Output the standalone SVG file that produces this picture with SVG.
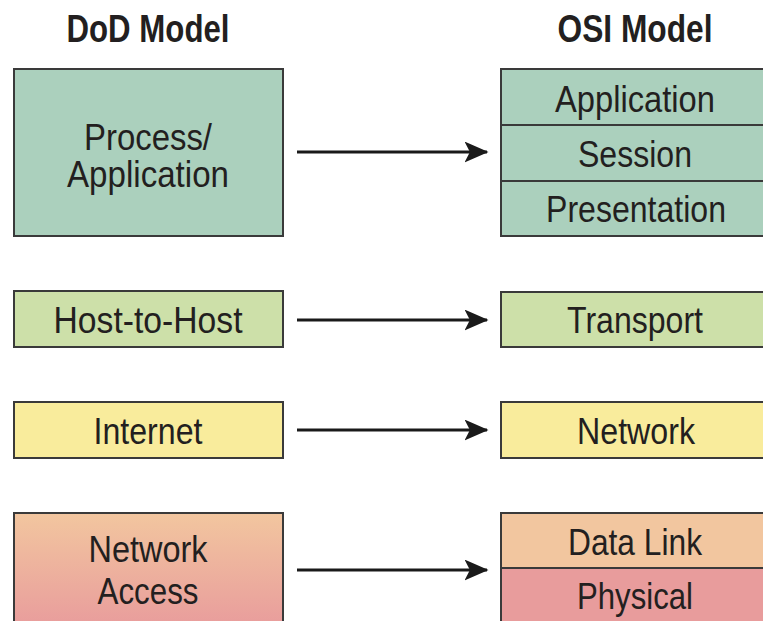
<svg xmlns="http://www.w3.org/2000/svg" width="763" height="621" viewBox="0 0 763 621">
  <style>
    .box { stroke: #3a3a3a; stroke-width: 2; }
    .sep { stroke: #3a3a3a; stroke-width: 2; fill: none; }
    .lbl { font-family: "Liberation Sans", Arial, sans-serif; font-size: 37px; fill: #231f20; text-anchor: middle; }
    .hdr { font-family: "Liberation Sans", Arial, sans-serif; font-size: 38px; font-weight: bold; fill: #231f20; text-anchor: middle; }
    .conn { stroke: #1a1a1a; stroke-width: 3; fill: none; }
    .teal { fill: #abd0bd; }
    .lime { fill: #cde0a9; }
    .yellow { fill: #f9ec9c; }
    .peach { fill: #f2c69f; }
    .rose { fill: #e89c9c; }
  </style>
  <defs>
    <linearGradient id="accessGrad" x1="0" y1="0" x2="0" y2="1">
      <stop offset="0" stop-color="#f2c69f"/>
      <stop offset="1" stop-color="#e89a9c"/>
    </linearGradient>
    <marker id="arrow" markerWidth="8" markerHeight="7" refX="7.5" refY="3.5" orient="auto" markerUnits="strokeWidth">
      <path d="M0,0 L8,3.5 L0,7 L1.8,3.5 Z" fill="#1a1a1a"/>
    </marker>
  </defs>
  <rect width="763" height="621" fill="#ffffff"/>

  <!-- column headers -->
  <text class="hdr" x="148" y="42" textLength="163" lengthAdjust="spacingAndGlyphs">DoD Model</text>
  <text class="hdr" x="635" y="42" textLength="155" lengthAdjust="spacingAndGlyphs">OSI Model</text>

  <!-- DoD layers -->
  <g id="dod-process">
    <rect class="box teal" x="14" y="69" width="269" height="167"/>
    <text class="lbl" x="148" y="150" textLength="128" lengthAdjust="spacingAndGlyphs">Process/</text>
    <text class="lbl" x="148" y="187" textLength="162" lengthAdjust="spacingAndGlyphs">Application</text>
  </g>
  <g id="dod-host">
    <rect class="box lime" x="14" y="291" width="269" height="56"/>
    <text class="lbl" x="148" y="333" textLength="189" lengthAdjust="spacingAndGlyphs">Host-to-Host</text>
  </g>
  <g id="dod-internet">
    <rect class="box yellow" x="14" y="402" width="269" height="56"/>
    <text class="lbl" x="148" y="444" textLength="109" lengthAdjust="spacingAndGlyphs">Internet</text>
  </g>
  <g id="dod-access">
    <rect class="box" fill="url(#accessGrad)" x="14" y="513" width="269" height="120"/>
    <text class="lbl" x="148" y="562" textLength="119" lengthAdjust="spacingAndGlyphs">Network</text>
    <text class="lbl" x="148" y="604" textLength="101" lengthAdjust="spacingAndGlyphs">Access</text>
  </g>

  <!-- OSI layers -->
  <g id="osi-upper">
    <rect class="box teal" x="501" y="69" width="280" height="167"/>
    <line class="sep" x1="501" y1="125" x2="781" y2="125"/>
    <line class="sep" x1="501" y1="181" x2="781" y2="181"/>
    <text class="lbl" x="635" y="112" textLength="160" lengthAdjust="spacingAndGlyphs">Application</text>
    <text class="lbl" x="635" y="167" textLength="114" lengthAdjust="spacingAndGlyphs">Session</text>
    <text class="lbl" x="636" y="222" textLength="180" lengthAdjust="spacingAndGlyphs">Presentation</text>
  </g>
  <g id="osi-transport">
    <rect class="box lime" x="501" y="292" width="280" height="55"/>
    <text class="lbl" x="635" y="333" textLength="136" lengthAdjust="spacingAndGlyphs">Transport</text>
  </g>
  <g id="osi-network">
    <rect class="box yellow" x="501" y="402" width="280" height="56"/>
    <text class="lbl" x="636" y="444" textLength="118" lengthAdjust="spacingAndGlyphs">Network</text>
  </g>
  <g id="osi-lower">
    <rect class="box peach" x="501" y="513" width="280" height="55"/>
    <rect class="box rose" x="501" y="568" width="280" height="65"/>
    <text class="lbl" x="635" y="555" textLength="134" lengthAdjust="spacingAndGlyphs">Data Link</text>
    <text class="lbl" x="635" y="609" textLength="116" lengthAdjust="spacingAndGlyphs">Physical</text>
  </g>

  <!-- mappings -->
  <g id="connectors">
    <line class="conn" x1="297" y1="152" x2="487" y2="152" marker-end="url(#arrow)"/>
    <line class="conn" x1="297" y1="320" x2="487" y2="320" marker-end="url(#arrow)"/>
    <line class="conn" x1="297" y1="430" x2="487" y2="430" marker-end="url(#arrow)"/>
    <line class="conn" x1="297" y1="570" x2="487" y2="570" marker-end="url(#arrow)"/>
  </g>
</svg>
